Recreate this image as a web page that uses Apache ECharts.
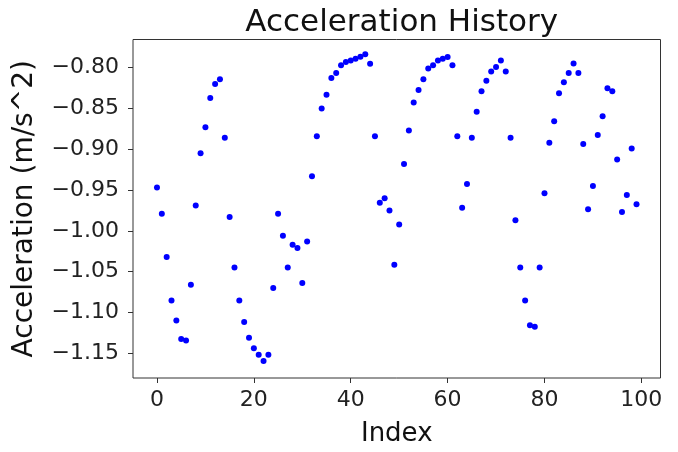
<!DOCTYPE html>
<html>
<head>
<meta charset="utf-8">
<script src="https://cdn.jsdelivr.net/npm/echarts@6/dist/echarts.min.js"></script>
<style>
  html, body { margin: 0; padding: 0; background: #fff; }
  #chart { width: 678px; height: 452px; }
</style>
</head>
<body>
<div id="chart"></div>
<script>
// acceleration samples (index 0..99)
var accel = [
  -0.947, -0.979, -1.032, -1.0855, -1.110, -1.1326, -1.1346, -1.066, -0.969, -0.905,
  -0.873, -0.837, -0.820, -0.814, -0.886, -0.983, -1.045, -1.0855, -1.1117, -1.131,
  -1.144, -1.152, -1.1595, -1.152, -1.070, -0.979, -1.006, -1.045, -1.017, -1.021,
  -1.064, -1.013, -0.933, -0.884, -0.850, -0.833, -0.8125, -0.8065, -0.797, -0.793,
  -0.791, -0.789, -0.7867, -0.7836, -0.795, -0.884, -0.9655, -0.960, -0.975, -1.0415,
  -0.9924, -0.918, -0.877, -0.8426, -0.8273, -0.814, -0.801, -0.797, -0.791, -0.789,
  -0.787, -0.797, -0.884, -0.9716, -0.9426, -0.886, -0.854, -0.829, -0.816, -0.8045,
  -0.799, -0.791, -0.8045, -0.886, -0.987, -1.045, -1.0855, -1.1157, -1.1177, -1.045,
  -0.954, -0.892, -0.8655, -0.8313, -0.8177, -0.8065, -0.7948, -0.8065, -0.8936, -0.9735,
  -0.945, -0.8824, -0.8595, -0.8253, -0.829, -0.9125, -0.977, -0.956, -0.899, -0.9675
]
var xTicks = [0, 20, 40, 60, 80, 100]
var yTicks = [-1.15, -1.10, -1.05, -1.00, -0.95, -0.90, -0.85, -0.80]

var points = accel.map(function (v, i) { return [i, v] })

var chart = echarts.init(document.getElementById('chart'))
var gridLeft = 133, gridRight = 17.5
var option = {
  animation: false,
  title: {
    text: 'Acceleration History',
    left: gridLeft + (678 - gridLeft - gridRight) / 2,
    textAlign: 'center',
    top: 2,
    textStyle: { fontFamily: 'DejaVu Sans', fontWeight: 'normal', fontSize: 31, color: '#111' }
  },
  grid: {
    left: gridLeft, right: gridRight, top: 39.5, bottom: 70.3,
    show: true, borderColor: '#333', borderWidth: 1, backgroundColor: 'transparent'
  },
  xAxis: {
    type: 'value',
    min: -4.95, max: 103.95,
    name: 'Index', nameLocation: 'middle', nameGap: 43,
    nameTextStyle: { fontFamily: 'DejaVu Sans', fontSize: 26, color: '#111' },
    axisLine: { show: false, onZero: false },
    axisTick: { show: true, customValues: xTicks, length: 5, lineStyle: { color: '#333' } },
    axisLabel: { customValues: xTicks, fontFamily: 'DejaVu Sans', fontSize: 22, color: '#222', margin: 11 },
    splitLine: { show: false }
  },
  yAxis: {
    type: 'value',
    min: -1.1805, max: -0.7654,
    name: 'Acceleration (m/s^2)', nameLocation: 'middle', nameGap: 94,
    nameTextStyle: { fontFamily: 'DejaVu Sans', fontSize: 28, color: '#111' },
    axisLine: { show: false, onZero: false },
    axisTick: { show: true, customValues: yTicks, length: 5, lineStyle: { color: '#333' } },
    axisLabel: {
      customValues: yTicks, fontFamily: 'DejaVu Sans', fontSize: 22, color: '#222', margin: 14,
      formatter: function (v) { return (v < 0 ? '\u2212' : '') + Math.abs(v).toFixed(2) }
    },
    splitLine: { show: false }
  },
  series: [{
    type: 'scatter',
    data: points,
    symbol: 'circle',
    symbolSize: 6,
    itemStyle: { color: '#0000ff', opacity: 1 }
  }]
}
chart.setOption(option)
</script>
</body>
</html>
